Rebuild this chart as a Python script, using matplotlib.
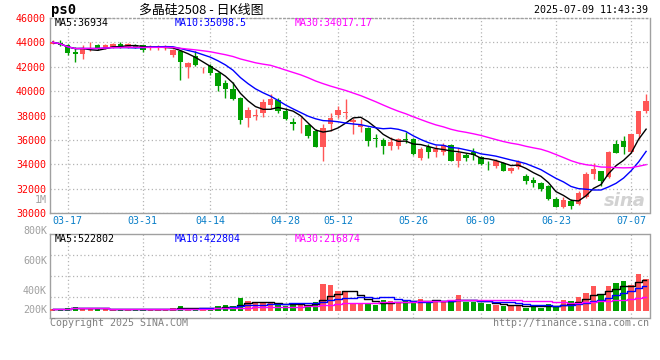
import numpy as np
import pandas as pd
import matplotlib
matplotlib.use("Agg")
import matplotlib.pyplot as plt

# trading days shown on the chart
DATES = [
    "03-13", "03-14", "03-17", "03-18", "03-19", "03-20", "03-21", "03-24", "03-25", "03-26",
    "03-27", "03-28", "03-31", "04-01", "04-02", "04-03", "04-07", "04-08", "04-09", "04-10",
    "04-11", "04-14", "04-15", "04-16", "04-17", "04-18", "04-21", "04-22", "04-23", "04-24",
    "04-25", "04-28", "04-29", "04-30", "05-06", "05-07", "05-08", "05-09", "05-12", "05-13",
    "05-14", "05-15", "05-16", "05-19", "05-20", "05-21", "05-22", "05-23", "05-26", "05-27",
    "05-28", "05-29", "05-30", "06-03", "06-04", "06-05", "06-06", "06-09", "06-10", "06-11",
    "06-12", "06-13", "06-16", "06-17", "06-18", "06-19", "06-20", "06-23", "06-24", "06-25",
    "06-26", "06-27", "06-30", "07-01", "07-02", "07-03", "07-04", "07-07", "07-08", "07-09",
]

OPEN = [
    43900, 43950, 43800, 43200, 43050, 43450, 43750, 43560, 43600, 43850,
    43620, 43800, 43750, 43500, 43500, 43550, 43000, 43300, 41950, 42850,
    41800, 42050, 41500, 40700, 40150, 39450, 37800, 38000, 38250, 38900,
    39300, 38400, 37480, 37200, 37230, 36700, 35450, 37320, 38080, 38200,
    37450, 37100, 37000, 36150, 36000, 35520, 35550, 36080, 36100, 34500,
    35450, 35050, 35000, 35600, 34250, 34800, 35050, 34600, 34050, 33880,
    34100, 33500, 33780, 33050, 32730, 32520, 32200, 31200, 30550, 31000,
    30750, 31300, 33250, 33450, 33000, 35650, 35900, 35050, 36500, 38400,
]
HIGH = [
    44200, 44150, 43850, 43600, 43750, 44000, 43900, 43850, 43950, 44050,
    43950, 43850, 43800, 43800, 43800, 43800, 43450, 43350, 42400, 43250,
    41950, 42200, 41550, 40900, 40750, 39500, 38700, 38500, 39350, 39800,
    39450, 38600, 37780, 37900, 37350, 36900, 37300, 38200, 38750, 39350,
    37800, 37750, 37050, 36500, 36150, 36280, 36200, 36650, 36200, 35400,
    35700, 35600, 35750, 35700, 35320, 34970, 35330, 34700, 34300, 34420,
    34200, 33820, 34370, 33200, 32970, 32600, 32300, 31350, 31300, 31150,
    31820, 33400, 34100, 33460, 35070, 36000, 36320, 36500, 38400, 39780,
]
LOW = [
    43850, 43700, 43000, 42400, 42650, 43300, 43350, 43450, 43550, 43550,
    43550, 43500, 43200, 43350, 43400, 43350, 42800, 40950, 41050, 42050,
    41480, 41350, 40000, 39450, 39300, 37350, 37100, 37650, 37900, 38550,
    38250, 37600, 36850, 36600, 36200, 35450, 34300, 36700, 37800, 37750,
    36500, 36650, 35550, 35450, 34850, 35200, 35250, 35750, 34800, 34400,
    34550, 34600, 34800, 34250, 33830, 34300, 34370, 33950, 33550, 33750,
    33450, 33330, 33600, 32400, 32180, 31850, 31100, 30500, 30400, 30330,
    30650, 31250, 32800, 32250, 32900, 34900, 34850, 34950, 36100, 38200,
]
CLOSE = [
    44000, 43750, 43150, 43050, 43530, 43500, 43500, 43780, 43850, 43600,
    43900, 43550, 43380, 43600, 43650, 43700, 43350, 42350, 42300, 42150,
    41850, 41480, 40450, 40200, 39350, 37600, 38450, 38080, 39100, 39350,
    38350, 37750, 37280, 37230, 36350, 35450, 36950, 37780, 38450, 38290,
    37600, 37200, 35950, 36050, 35520, 35850, 36100, 36040, 34850, 35300,
    35050, 35300, 35600, 34300, 34950, 34500, 34780, 34050, 34000, 34270,
    33500, 33730, 34230, 32650, 32520, 32000, 31150, 30550, 31090, 30570,
    31700, 33250, 33600, 32650, 35050, 34950, 35450, 36500, 38350, 39200,
]
# volume in thousands
VOLUME_K = [
    29, 29, 47, 65, 47, 47, 23, 29, 23, 23,
    23, 29, 29, 29, 29, 29, 47, 82, 47, 47,
    47, 47, 82, 100, 82, 223, 170, 153, 129, 129,
    117, 82, 129, 129, 82, 153, 469, 452, 352, 352,
    117, 117, 129, 100, 188, 170, 153, 188, 170, 205,
    170, 170, 170, 170, 276, 153, 153, 135, 117, 100,
    82, 100, 100, 47, 82, 47, 117, 82, 188, 170,
    241, 311, 434, 276, 434, 487, 522, 452, 645, 557,
]

DATE_TICKS = ["03-17", "03-31", "04-14", "04-28", "05-12", "05-26", "06-09", "06-23", "07-07"]
PRICE_TICKS = [30000, 32000, 34000, 36000, 38000, 40000, 42000, 44000, 46000]
VOL_LABELS = ["800K", "600K", "400K", "200K"]
MA_PERIODS = [5, 10, 30]

SYMBOL = "ps0"
TITLE = "多晶硅2508 - 日K线图"
STAMP = "2025-07-09 11:43:39"
PRICE_MA_TEXT = ["MA5:36934", "MA10:35098.5", "MA30:34017.17"]
VOL_MA_TEXT = ["MA5:522802", "MA10:422804", "MA30:216874"]

RED = "#ff5656"
GREEN = "#00a000"
MA_COLORS = ["#000000", "#0000ff", "#ff00ff"]
GRID = "#b4b4b4"
FRAME = "#a0a0a0"
MONO = "DejaVu Sans Mono"
FS = 7.2

W, H = 660, 360


def px(x, y):
    return x / W, 1 - y / H


def style_axes(ax):
    ax.set_facecolor("white")
    ax.set_axisbelow(True)
    ax.grid(True, color=GRID, linestyle=(0, (1, 2)), linewidth=0.9)
    for sp in ax.spines.values():
        sp.set_color(FRAME)
        sp.set_linewidth(1)
    ax.tick_params(length=0)


def main():
    x = np.arange(len(DATES))
    o = np.array(OPEN)
    h = np.array(HIGH)
    l = np.array(LOW)
    c = np.array(CLOSE)
    vol = np.array(VOLUME_K)
    colors = np.where(c >= o, RED, GREEN)

    fig = plt.figure(figsize=(W / 100, H / 100), dpi=100)
    fig.patch.set_facecolor("white")

    ax = fig.add_axes([50 / W, 1 - 213.3 / H, 599.5 / W, 195.4 / H])
    axv = fig.add_axes([50 / W, 1 - 318 / H, 599.5 / W, 84 / H], sharex=ax)
    style_axes(ax)
    style_axes(axv)
    ax.spines["top"].set_linestyle((0, (1, 2)))

    # candles
    ax.vlines(x, l, h, colors=colors, linewidth=1, zorder=2)
    body = np.maximum(np.abs(c - o), 45)
    ax.bar(x, body, bottom=np.minimum(o, c), width=0.72, color=colors,
           linewidth=0, zorder=3)

    s = pd.Series(c, dtype=float)
    for n, col in zip(MA_PERIODS, MA_COLORS):
        ax.plot(x, s.rolling(n, min_periods=1).mean(), color=col, lw=1, zorder=4)

    ax.set_xlim(-0.36, 79.45)
    ax.set_ylim(30000, 46000)
    ax.set_yticks(PRICE_TICKS)
    ax.set_yticklabels([str(p) for p in PRICE_TICKS], color="#ff0000",
                       fontsize=FS, family=MONO)
    ax.tick_params(axis="y", pad=3)
    ax.set_xticks([DATES.index(d) for d in DATE_TICKS])
    ax.set_xticklabels(DATE_TICKS, color="#0a7fc8", fontsize=FS, family=MONO)
    ax.tick_params(axis="x", pad=2)

    # volume
    axv.bar(x, vol, width=0.72, color=colors, linewidth=0, zorder=3)
    v = pd.Series(vol, dtype=float)
    for n, col in zip(MA_PERIODS, MA_COLORS):
        axv.plot(x, v.rolling(n, min_periods=1).mean(), color=col, lw=1,
                 drawstyle="steps-mid", zorder=4)
    lo, hi = -128, 1350
    axv.set_ylim(lo, hi)
    axv.set_yticks(np.linspace(lo, hi, 5)[1:-1])
    axv.tick_params(labelleft=False, labelbottom=False)
    for lab, fy in zip(VOL_LABELS, [1.036, 0.679, 0.321, 0.095]):
        axv.text(-0.005, fy, lab, transform=axv.transAxes, ha="right", va="center",
                 color="#a0a0a0", fontsize=FS, family=MONO)

    ax.text(-0.005, 0.068, "1M", transform=ax.transAxes, ha="right", va="center",
            color="#a0a0a0", fontsize=FS, family=MONO)

    # header
    fig.text(*px(51, 10), SYMBOL, fontsize=10, fontweight="bold", family=MONO,
             va="center", ha="left")
    fig.text(*px(139, 10), TITLE, fontsize=9.3, va="center", ha="left",
             family=["Noto Sans CJK SC", "DejaVu Sans"])
    fig.text(*px(648, 10), STAMP, fontsize=FS, family=MONO, va="center", ha="right")

    for t, col, xp in zip(PRICE_MA_TEXT, MA_COLORS, [55, 175, 295]):
        fig.text(*px(xp, 23), t, color=col, fontsize=FS, family=MONO, va="center")
    for t, col, xp in zip(VOL_MA_TEXT, MA_COLORS, [55, 175, 295]):
        fig.text(*px(xp, 238.5), t, color=col, fontsize=FS, family=MONO, va="center")

    # watermark and footer
    fig.text(*px(625, 201), "sina", color="#d2d2d2", fontsize=13, fontstyle="italic",
             fontweight="bold", ha="center", va="center")
    fig.text(*px(50, 323), "Copyright 2025 SINA.COM", color="#808080",
             fontsize=FS, family=MONO, va="center", ha="left")
    fig.text(*px(649, 323), "http://finance.sina.com.cn", color="#808080",
             fontsize=FS, family=MONO, va="center", ha="right")

    fig.savefig("out.png", dpi=100, facecolor="white")


if __name__ == "__main__":
    main()
